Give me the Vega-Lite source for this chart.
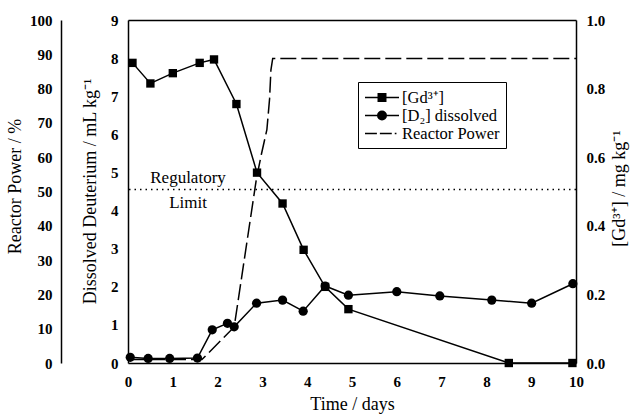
{
  "$schema": "https://vega.github.io/schema/vega-lite/v6.json",
  "autosize": "none",
  "width": 448,
  "height": 343,
  "padding": {"left": 128, "top": 20, "right": 56, "bottom": 55},
  "background": "white",
  "config": {
    "view": {"stroke": null},
    "font": "Liberation Serif",
    "axis": {
      "domainColor": "black", "domainWidth": 1.5, "tickColor": "black", "tickWidth": 1.2,
      "labelFont": "Liberation Serif", "labelFontSize": 15, "labelFontWeight": "bold", "labelColor": "black",
      "titleFont": "Liberation Serif", "titleFontSize": 18, "titleFontWeight": "normal", "titleColor": "black",
      "grid": false, "labelOverlap": false, "labelFlush": false
    },
    "legend": {
      "orient": "none", "legendX": 230, "legendY": 62,
      "strokeColor": "black", "fillColor": "white", "padding": 6,
      "labelFont": "Liberation Serif", "labelFontSize": 16.5, "labelColor": "black",
      "symbolSize": 289, "symbolStrokeWidth": 1.5, "symbolStrokeColor": "black",
      "symbolOpacity": 1, "labelOffset": 19, "rowPadding": -2
    }
  },
  "datasets": {
    "gd": [
      {"t": 0.1, "gd": 0.875}, {"t": 0.5, "gd": 0.815}, {"t": 1.0, "gd": 0.845}, {"t": 1.6, "gd": 0.875},
      {"t": 1.92, "gd": 0.885}, {"t": 2.42, "gd": 0.755}, {"t": 2.88, "gd": 0.555}, {"t": 3.45, "gd": 0.465},
      {"t": 3.92, "gd": 0.33}, {"t": 4.4, "gd": 0.222}, {"t": 4.92, "gd": 0.157}, {"t": 8.5, "gd": 0.0},
      {"t": 9.92, "gd": 0.0}
    ],
    "d2": [
      {"t": 0.05, "d2": 0.15}, {"t": 0.45, "d2": 0.12}, {"t": 0.93, "d2": 0.12}, {"t": 1.55, "d2": 0.13},
      {"t": 1.88, "d2": 0.87}, {"t": 2.22, "d2": 1.04}, {"t": 2.37, "d2": 0.95}, {"t": 2.87, "d2": 1.57},
      {"t": 3.45, "d2": 1.65}, {"t": 3.91, "d2": 1.36}, {"t": 4.4, "d2": 2.02}, {"t": 4.92, "d2": 1.78},
      {"t": 6.0, "d2": 1.87}, {"t": 6.96, "d2": 1.76}, {"t": 8.12, "d2": 1.65}, {"t": 9.01, "d2": 1.57},
      {"t": 9.93, "d2": 2.08}
    ],
    "power": [
      {"t": 0, "p": 1}, {"t": 1.65, "p": 1}, {"t": 2.37, "p": 10.5}, {"t": 2.87, "p": 54},
      {"t": 2.98, "p": 61}, {"t": 3.1, "p": 68}, {"t": 3.16, "p": 77}, {"t": 3.19, "p": 85.4},
      {"t": 3.23, "p": 88.8}, {"t": 10, "p": 88.8}
    ],
    "limit": [{"v": 4.55}],
    "notes": [
      {"t": 1.34, "v": 4.72, "label": "Regulatory"},
      {"t": 1.34, "v": 4.08, "label": "Limit"}
    ],
    "legend": [
      {"series": "[Gd³⁺]"}, {"series": "[D₂] dissolved"}, {"series": "Reactor Power"}
    ]
  },
  "layer": [
    {
      "data": {"name": "power"},
      "mark": {"type": "line", "color": "black", "strokeWidth": 1.5, "strokeDash": [16, 5]},
      "encoding": {
        "x": {
          "field": "t", "type": "quantitative", "scale": {"domain": [0, 10], "nice": false},
          "axis": {
            "orient": "bottom", "title": "Time / days", "titlePadding": 6, "ticks": false,
            "values": [0,1,2,3,4,5,6,7,8,9,10], "format": "d", "labelPadding": 11
          }
        },
        "y": {
          "field": "p", "type": "quantitative", "scale": {"domain": [0, 100], "nice": false},
          "axis": {
            "orient": "left", "offset": 67, "title": "Reactor Power / %", "ticks": false,
            "titleX": -46, "titleY": 166, "titleAngle": 270, "titleAlign": "center", "titleBaseline": "middle",
            "values": [0,10,20,30,40,50,60,70,80,90,100], "format": "d", "labelPadding": 9
          }
        }
      }
    },
    {
      "data": {"name": "d2"},
      "mark": {"type": "line", "color": "black", "strokeWidth": 1.5,
               "point": {"shape": "circle", "size": 85, "filled": true, "color": "black", "opacity": 1}},
      "encoding": {
        "x": {
          "field": "t", "type": "quantitative",
          "axis": {"orient": "top", "title": null, "labels": false, "ticks": false, "values": [0, 10]}
        },
        "y": {
          "field": "d2", "type": "quantitative", "scale": {"domain": [0, 9], "nice": false},
          "axis": {
            "orient": "left", "title": "Dissolved Deuterium / mL kg⁻¹", "ticks": false,
            "titleX": -38, "titleY": 171, "titleAngle": 270, "titleAlign": "center", "titleBaseline": "middle",
            "values": [0,1,2,3,4,5,6,7,8,9], "format": "d", "labelPadding": 10
          }
        }
      }
    },
    {
      "data": {"name": "gd"},
      "mark": {"type": "line", "color": "black", "strokeWidth": 1.5,
               "point": {"shape": "square", "size": 70, "filled": true, "color": "black", "opacity": 1}},
      "encoding": {
        "x": {"field": "t", "type": "quantitative", "axis": null},
        "y": {
          "field": "gd", "type": "quantitative", "scale": {"domain": [0, 1], "nice": false},
          "axis": {
            "orient": "right", "title": "[Gd³⁺] / mg kg⁻¹", "ticks": false,
            "titleX": 43, "titleY": 168, "titleAngle": 270, "titleAlign": "center", "titleBaseline": "middle",
            "values": [0,0.2,0.4,0.6,0.8,1], "format": ".1f", "labelPadding": 10
          }
        }
      }
    },
    {
      "data": {"name": "limit"},
      "mark": {"type": "rule", "color": "black", "strokeWidth": 1.5, "strokeDash": [1.5, 4]},
      "encoding": {
        "y": {"field": "v", "type": "quantitative", "scale": {"domain": [0, 9], "nice": false}, "axis": null}
      }
    },
    {
      "data": {"name": "notes"},
      "mark": {"type": "text", "font": "Liberation Serif", "fontSize": 17, "color": "black", "align": "center", "baseline": "alphabetic"},
      "encoding": {
        "x": {"field": "t", "type": "quantitative", "axis": null},
        "y": {"field": "v", "type": "quantitative", "scale": {"domain": [0, 9], "nice": false}, "axis": null},
        "text": {"field": "label"}
      }
    },
    {
      "data": {"name": "legend"},
      "mark": {"type": "point", "filled": false, "color": "black", "opacity": 0},
      "encoding": {
        "shape": {
          "field": "series", "type": "nominal",
          "scale": {
            "domain": ["[Gd³⁺]", "[D₂] dissolved", "Reactor Power"],
            "range": [
              "M-1,0H3M0.56,-0.44H1.44V0.44H0.56ZM0.56,-0.3H1.44M0.56,-0.15H1.44M0.56,0.15H1.44M0.56,0.3H1.44",
              "M-1,0H3M1.5,0A0.5,0.5,0,1,1,0.5,0A0.5,0.5,0,1,1,1.5,0ZM0.523,-0.15H1.477M0.6,-0.3H1.4M0.729,-0.42H1.271M0.523,0.15H1.477M0.6,0.3H1.4M0.729,0.42H1.271",
              "M-1,0H0.4M0.75,0H2.15M2.5,0H2.7"
            ]
          },
          "legend": {"title": null}
        }
      }
    }
  ],
  "resolve": {
    "scale": {"y": "independent"},
    "axis": {"x": "independent", "y": "independent"}
  }
}
